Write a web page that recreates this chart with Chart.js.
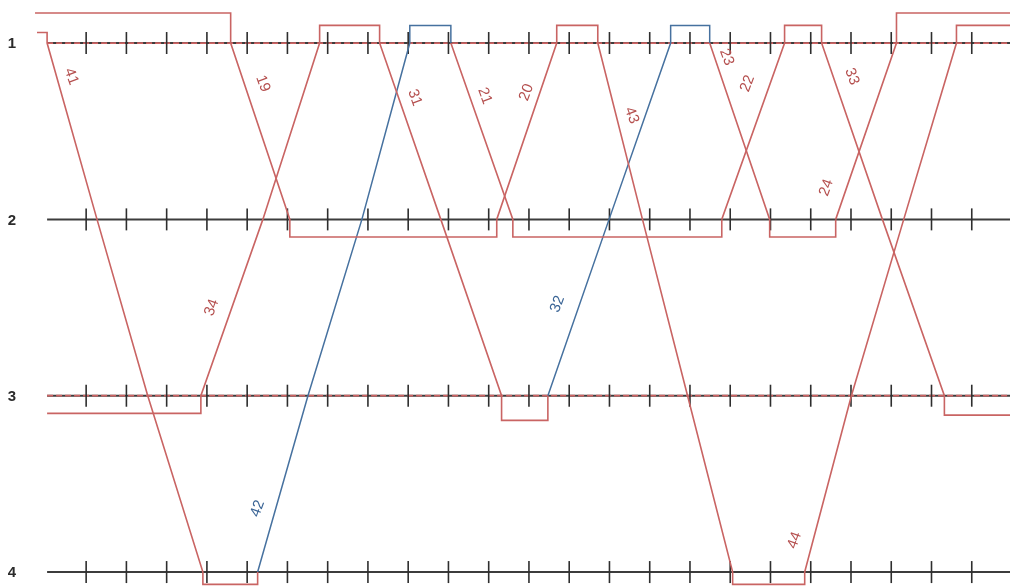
<!DOCTYPE html>
<html>
<head>
<meta charset="utf-8">
<script src="https://cdn.jsdelivr.net/npm/chart.js@4.4.1/dist/chart.umd.min.js"></script>
<style>
  body { margin: 0; background: #fff; }
  #wrap { width: 1010px; height: 586px; }
</style>
</head>
<body>
<div id="wrap"><canvas id="graph" width="1010" height="586"></canvas></div>
<script>
// stations (y) and minute ticks (x)
const stations = [1, 2, 3, 4];
const tickTimes = [1, 2, 3, 4, 5, 6, 7, 8, 9, 10, 11, 12, 13, 14, 15, 16, 17, 18, 19, 20, 21, 22, 23];
const lineStart = 0.03;
const lineEnd = 24.2;

// each train: [time, station] points, dwell offsets
const train41 = [[-0.22, 0.94], [0.03, 0.94], [0.03, 1], [1.27, 2], [2.53, 3], [3.9, 4], [3.9, 4.07], [5.26, 4.07], [5.26, 4]];
const train42 = [[5.26, 4], [6.51, 3], [7.85, 2], [9.04, 1], [9.04, 0.9], [10.06, 0.9], [10.06, 1]];
const train21 = [[10.06, 1], [11.6, 2], [11.6, 2.1], [16.79, 2.1], [16.79, 2]];
const train22 = [[16.79, 2], [18.35, 1], [18.35, 0.9], [19.27, 0.9], [19.27, 1]];
const train33 = [[19.27, 1], [20.78, 2], [22.32, 3], [22.32, 3.11], [24.2, 3.11]];
const train19 = [[-0.27, 0.83], [4.59, 0.83], [4.59, 1], [6.06, 2], [6.06, 2.1], [11.2, 2.1], [11.2, 2]];
const train20 = [[11.2, 2], [12.69, 1], [12.69, 0.9], [13.71, 0.9], [13.71, 1]];
const train43 = [[13.71, 1], [14.82, 2], [15.94, 3], [17.06, 4], [17.06, 4.07], [18.85, 4.07], [18.85, 4]];
const train44 = [[18.85, 4], [20.01, 3], [21.31, 2], [22.62, 1], [22.62, 0.9], [24.2, 0.9]];
const train34 = [[0.03, 3.1], [3.85, 3.1], [3.85, 3], [5.39, 2], [6.8, 1], [6.8, 0.9], [8.29, 0.9], [8.29, 1]];
const train31 = [[8.29, 1], [9.81, 2], [11.32, 3], [11.32, 3.14], [12.47, 3.14], [12.47, 3]];
const train32 = [[12.47, 3], [13.99, 2], [15.52, 1], [15.52, 0.9], [16.49, 0.9], [16.49, 1]];
const train23 = [[16.49, 1], [17.98, 2], [17.98, 2.1], [19.62, 2.1], [19.62, 2]];
const train24 = [[19.62, 2], [21.13, 1], [21.13, 0.83], [24.2, 0.83]];

const redTrains = [train41, train21, train22, train33, train19, train20, train43, train44, train34, train31, train23, train24];
const blueTrains = [train42, train32];

// train number labels
const labelText = ['41', '19', '31', '21', '20', '43', '23', '22', '33', '24', '34', '32', '42', '44'];
const labelT = [0.63, 5.39, 9.16, 10.9, 11.94, 14.55, 16.91, 17.43, 20.02, 19.39, 4.12, 12.71, 5.26, 18.6];
const labelS = [1.19, 1.23, 1.31, 1.3, 1.28, 1.41, 1.08, 1.23, 1.19, 1.82, 2.5, 2.48, 3.64, 3.82];
const labelDir = [1, 1, 1, 1, -1, 1, 1, -1, 1, -1, -1, -1, -1, -1];
const labelBlue = ['32', '42'];

const RED = '#c96463';
const BLUE = '#46719f';

const pts = arr => arr.map(p => ({ x: p[0], y: p[1] }));

const datasets = [];
stations.forEach(s => {
  datasets.push({
    data: [{ x: lineStart, y: s }, { x: lineEnd, y: s }],
    showLine: true, borderColor: '#3c3c3c', borderWidth: 2, pointRadius: 0, order: 4
  });
  if (s === 1 || s === 3) {
    datasets.push({
      data: [{ x: lineStart, y: s }, { x: lineEnd, y: s }],
      showLine: true, borderColor: '#cf6464', borderWidth: 1.8, borderDash: [6, 3],
      pointRadius: 0, order: 3
    });
  }
});
datasets.push({
  data: stations.flatMap(s => tickTimes.map(t => ({ x: t, y: s }))),
  showLine: false, pointStyle: 'line', rotation: 90, pointRadius: 11,
  borderColor: '#2e2e2e', borderWidth: 1.6, order: 2
});
redTrains.forEach(tr => datasets.push({
  data: pts(tr), showLine: true, borderColor: RED, borderWidth: 1.6, pointRadius: 0, order: 1
}));
blueTrains.forEach(tr => datasets.push({
  data: pts(tr), showLine: true, borderColor: BLUE, borderWidth: 1.5, pointRadius: 0, order: 1
}));

const textPlugin = {
  id: 'graphText',
  afterDatasetsDraw(chart) {
    const { ctx, scales: { x, y } } = chart;
    ctx.save();
    ctx.font = 'bold 15px "Liberation Sans", Arial, sans-serif';
    ctx.fillStyle = '#2b2b2b';
    ctx.textAlign = 'center';
    ctx.textBaseline = 'middle';
    stations.forEach(s => ctx.fillText(String(s), 12, y.getPixelForValue(s) + 1));
    ctx.font = '15px "Liberation Sans", Arial, sans-serif';
    labelText.forEach((txt, i) => {
      ctx.save();
      ctx.translate(x.getPixelForValue(labelT[i]), y.getPixelForValue(labelS[i]));
      ctx.rotate(labelDir[i] * 70 * Math.PI / 180);
      ctx.fillStyle = labelBlue.includes(txt) ? '#3b6596' : '#b5504f';
      ctx.fillText(txt, 0, 0);
      ctx.restore();
    });
    ctx.restore();
  }
};

new Chart(document.getElementById('graph'), {
  type: 'scatter',
  data: { datasets },
  options: {
    responsive: false,
    animation: false,
    layout: { padding: 0, autoPadding: false },
    plugins: { legend: { display: false }, tooltip: { enabled: false } },
    scales: {
      x: { type: 'linear', min: -1.14, max: 23.95, display: false },
      y: { type: 'linear', min: 0.756, max: 4.079, reverse: true, display: false }
    }
  },
  plugins: [textPlugin]
});
</script>
</body>
</html>
